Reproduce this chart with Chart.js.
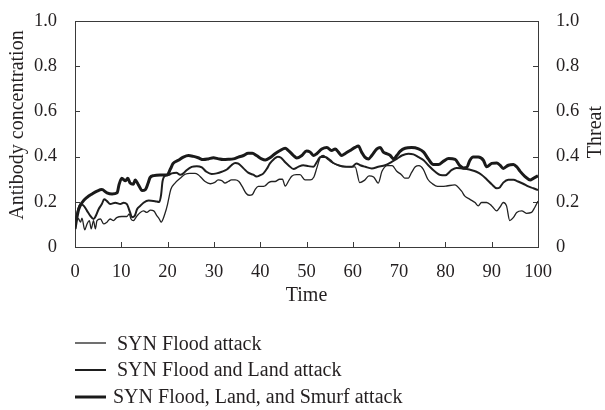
<!DOCTYPE html>
<html>
<head>
<meta charset="utf-8">
<script src="https://cdn.jsdelivr.net/npm/chart.js@4.4.1/dist/chart.umd.min.js"></script>
<style>
  html, body { margin: 0; padding: 0; background: #fff; }
  canvas { display: block; }
</style>
</head>
<body>
<canvas id="c" width="605" height="410"></canvas>
<script>
// ---- data ----
const seriesNames = ["SYN Flood attack", "SYN Flood and Land attack", "SYN Flood, Land, and Smurf attack"];
const xTickValues = [0, 10, 20, 30, 40, 50, 60, 70, 80, 90, 100];
const yTickValues = [0, 0.2, 0.4, 0.6, 0.8, 1.0];

const synTime = [0, 0.4, 0.8, 1.2, 1.5, 2.1, 2.6, 3.1, 3.5, 4.0, 4.4, 4.75, 5.5, 6.2, 6.9, 7.6, 8.3, 9.0, 10.1, 11.2, 11.7, 12.1, 12.6, 13.4, 14.1, 14.8, 15.5, 16.3, 17.0, 17.7, 18.2, 18.6, 19.4, 20.0, 20.3, 20.7, 21.6, 22.7, 23.8, 24.8, 25.9, 26.6, 27.4, 28.1, 29.2, 30.2, 30.9, 31.7, 32.4, 33.1, 33.8, 34.6, 35.4, 36.1, 36.9, 37.6, 38.3, 38.9, 39.6, 40.3, 41.0, 41.8, 42.5, 43.2, 44.2, 44.8, 45.4, 46.2, 46.8, 47.8, 48.6, 49.7, 50.8, 51.6, 52.2, 53.0, 53.6, 54.5, 55.4, 56.5, 57.8, 59.5, 60.5, 61.5, 62.5, 63.5, 64.5, 65.5, 66.3, 67.5, 68.5, 69.5, 70.5, 71.2, 72.0, 72.7, 73.5, 74.3, 75.2, 76.2, 77.2, 78.3, 79.3, 80.3, 82.0, 83.5, 84.2, 85.3, 86.4, 87.1, 87.8, 88.9, 90.0, 91.1, 91.8, 92.5, 93.2, 93.9, 94.7, 95.4, 96.5, 97.5, 98.6, 99.3, 100];
const synValue = [0.10, 0.13, 0.124, 0.11, 0.128, 0.076, 0.102, 0.117, 0.08, 0.117, 0.08, 0.117, 0.124, 0.102, 0.11, 0.124, 0.117, 0.13, 0.135, 0.135, 0.146, 0.124, 0.117, 0.138, 0.153, 0.16, 0.153, 0.163, 0.16, 0.138, 0.124, 0.11, 0.146, 0.19, 0.22, 0.256, 0.283, 0.304, 0.322, 0.326, 0.326, 0.32, 0.304, 0.29, 0.28, 0.286, 0.297, 0.294, 0.283, 0.29, 0.297, 0.297, 0.29, 0.268, 0.239, 0.229, 0.232, 0.254, 0.268, 0.268, 0.27, 0.285, 0.29, 0.29, 0.30, 0.30, 0.27, 0.295, 0.313, 0.32, 0.32, 0.297, 0.297, 0.31, 0.348, 0.398, 0.405, 0.39, 0.375, 0.365, 0.358, 0.355, 0.355, 0.285, 0.295, 0.315, 0.31, 0.283, 0.335, 0.36, 0.36, 0.335, 0.32, 0.305, 0.305, 0.33, 0.355, 0.36, 0.345, 0.30, 0.28, 0.268, 0.268, 0.27, 0.275, 0.247, 0.225, 0.211, 0.197, 0.182, 0.197, 0.197, 0.182, 0.16, 0.177, 0.197, 0.182, 0.117, 0.131, 0.153, 0.16, 0.149, 0.153, 0.175, 0.203];

const landTime = [0, 0.5, 1.2, 1.9, 2.6, 3.3, 4.0, 4.5, 5.1, 5.8, 6.3, 6.9, 7.6, 8.7, 9.8, 10.5, 11.2, 11.9, 12.3, 12.9, 13.4, 14.1, 14.8, 15.9, 17.3, 18.2, 18.6, 18.9, 19.5, 20.2, 20.9, 21.9, 22.7, 23.4, 24.1, 25.2, 26.3, 27.4, 28.4, 29.5, 30.6, 31.7, 32.8, 33.8, 34.6, 35.3, 36.4, 37.4, 38.5, 39.2, 40.0, 40.7, 41.4, 42.1, 43.0, 43.8, 44.5, 45.4, 46.2, 47.2, 48.2, 49.3, 50.4, 51.5, 52.2, 53.0, 54.0, 55.1, 55.8, 56.9, 58.3, 59.8, 60.8, 61.6, 62.7, 64.1, 65.5, 67.0, 68.4, 69.5, 70.6, 72.0, 73.1, 74.2, 75.3, 76.3, 77.8, 78.9, 80.0, 81.3, 82.4, 84.6, 85.7, 86.7, 87.8, 88.9, 90.0, 91.1, 91.8, 92.5, 93.6, 94.7, 95.7, 96.8, 97.9, 99.0, 100];
const landValue = [0.08, 0.15, 0.19, 0.182, 0.16, 0.138, 0.124, 0.138, 0.167, 0.19, 0.211, 0.203, 0.19, 0.196, 0.19, 0.196, 0.19, 0.153, 0.132, 0.138, 0.167, 0.182, 0.196, 0.206, 0.203, 0.199, 0.232, 0.29, 0.316, 0.319, 0.326, 0.329, 0.32, 0.326, 0.34, 0.355, 0.358, 0.352, 0.333, 0.323, 0.326, 0.333, 0.343, 0.362, 0.372, 0.369, 0.348, 0.329, 0.32, 0.312, 0.318, 0.326, 0.345, 0.37, 0.39, 0.40, 0.395, 0.375, 0.36, 0.345, 0.355, 0.362, 0.358, 0.355, 0.375, 0.398, 0.398, 0.385, 0.372, 0.362, 0.355, 0.355, 0.37, 0.362, 0.355, 0.348, 0.355, 0.362, 0.377, 0.39, 0.405, 0.413, 0.41, 0.398, 0.384, 0.362, 0.333, 0.319, 0.318, 0.34, 0.35, 0.345, 0.34, 0.333, 0.32, 0.30, 0.278, 0.26, 0.265, 0.285, 0.298, 0.298, 0.29, 0.28, 0.268, 0.26, 0.252];

const smurfTime = [0, 0.4, 0.8, 1.5, 2.6, 3.7, 4.75, 5.8, 6.9, 8.0, 9.1, 9.5, 10.1, 10.9, 11.4, 11.9, 12.6, 13.0, 13.7, 14.5, 15.2, 15.8, 16.2, 17.0, 18.4, 19.9, 20.6, 21.2, 22.3, 23.4, 24.5, 25.6, 26.6, 27.7, 28.8, 29.9, 31.0, 32.0, 33.1, 34.2, 35.3, 36.4, 37.4, 38.3, 39.2, 40.3, 41.1, 42.1, 43.2, 44.3, 45.4, 46.1, 47.2, 47.9, 49.0, 50.0, 50.8, 51.5, 52.2, 53.3, 54.4, 55.4, 56.2, 56.9, 57.6, 58.3, 59.4, 60.5, 61.2, 61.9, 62.6, 63.4, 64.1, 65.2, 65.9, 66.6, 67.3, 68.1, 68.8, 69.5, 70.2, 71.3, 72.7, 74.2, 75.3, 76.3, 77.4, 78.5, 79.6, 80.7, 82.1, 83.1, 83.9, 84.6, 85.3, 86.0, 87.1, 88.2, 88.9, 90.0, 91.1, 91.8, 92.5, 93.6, 94.7, 95.4, 96.1, 97.2, 98.3, 99.0, 100];
const smurfValue = [0.08, 0.13, 0.167, 0.196, 0.22, 0.235, 0.247, 0.254, 0.24, 0.235, 0.24, 0.275, 0.304, 0.293, 0.304, 0.283, 0.278, 0.297, 0.275, 0.25, 0.254, 0.283, 0.307, 0.316, 0.319, 0.319, 0.345, 0.37, 0.384, 0.398, 0.405, 0.401, 0.395, 0.387, 0.39, 0.395, 0.39, 0.387, 0.388, 0.39, 0.398, 0.405, 0.415, 0.415, 0.405, 0.39, 0.385, 0.395, 0.413, 0.427, 0.437, 0.427, 0.405, 0.394, 0.405, 0.425, 0.42, 0.405, 0.413, 0.434, 0.441, 0.427, 0.434, 0.42, 0.405, 0.413, 0.427, 0.441, 0.447, 0.42, 0.398, 0.39, 0.405, 0.434, 0.441, 0.42, 0.413, 0.405, 0.39, 0.405, 0.423, 0.437, 0.44, 0.434, 0.42, 0.39, 0.365, 0.365, 0.38, 0.392, 0.388, 0.36, 0.35, 0.352, 0.384, 0.398, 0.398, 0.384, 0.355, 0.37, 0.372, 0.362, 0.348, 0.362, 0.365, 0.355, 0.336, 0.312, 0.297, 0.304, 0.315];

// ---- chart ----
const FONT = "'Liberation Serif', 'Times New Roman', serif";
const INK = '#231f20';
const TEXT_SIZE = 20;
const TICK_SIZE = 18.5;
Chart.defaults.font.family = FONT;
Chart.defaults.font.size = TICK_SIZE;
Chart.defaults.color = INK;

function pairs(xs, ys) { return xs.map((x, i) => ({ x: x, y: ys[i] })); }

const frameAndTicks = {
  id: 'frameAndTicks',
  beforeDatasetsDraw(chart) {
    const ctx = chart.ctx, a = chart.chartArea;
    ctx.save();
    ctx.strokeStyle = '#3a3a3a';
    ctx.lineWidth = 1;
    ctx.strokeRect(Math.round(a.left) + 0.5, Math.round(a.top) + 0.5, Math.round(a.right - a.left), Math.round(a.bottom - a.top));
    const L = 5;
    ctx.beginPath();
    const xs = chart.scales.x;
    xs.ticks.forEach((t, i) => {
      const p = Math.round(xs.getPixelForTick(i)) + 0.5;
      ctx.moveTo(p, a.bottom); ctx.lineTo(p, a.bottom - L);
    });
    const ys = chart.scales.y;
    ys.ticks.forEach((t, i) => {
      const p = Math.round(ys.getPixelForTick(i)) + 0.5;
      ctx.moveTo(a.left, p); ctx.lineTo(a.left + L, p);
    });
    const y2 = chart.scales.y2;
    y2.ticks.forEach((t, i) => {
      const p = Math.round(y2.getPixelForTick(i)) + 0.5;
      ctx.moveTo(a.right, p); ctx.lineTo(a.right - L, p);
    });
    ctx.stroke();
    ctx.restore();
  },
  afterDraw(chart) {
    const ctx = chart.ctx, a = chart.chartArea;
    // axis titles on the sides (both read bottom to top)
    const sideTitles = [
      { text: 'Antibody concentration', x: 18, y: (a.top + a.bottom) / 2 - 9 },
      { text: 'Threat', x: 596, y: (a.top + a.bottom) / 2 - 2 }
    ];
    sideTitles.forEach(t => {
      ctx.save();
      ctx.fillStyle = INK;
      ctx.font = TEXT_SIZE + 'px ' + FONT;
      ctx.textAlign = 'center';
      ctx.textBaseline = 'middle';
      ctx.translate(t.x, t.y);
      ctx.rotate(-Math.PI / 2);
      ctx.fillText(t.text, 0, 0);
      ctx.restore();
    });

    // legend
    ctx.save();
    const lineY = [343, 370, 397];
    const textX = [117, 117, 113];
    const baseY = [350, 376, 403];
    chart.data.datasets.forEach((ds, i) => {
      ctx.strokeStyle = ds.borderColor;
      ctx.lineWidth = ds.borderWidth;
      ctx.beginPath();
      ctx.moveTo(75, lineY[i]);
      ctx.lineTo(106, lineY[i]);
      ctx.stroke();
      ctx.fillStyle = INK;
      ctx.font = TEXT_SIZE + 'px ' + FONT;
      ctx.textAlign = 'left';
      ctx.textBaseline = 'alphabetic';
      ctx.fillText(ds.label, textX[i], baseY[i]);
    });
    ctx.restore();
  }
};

const yTickFmt = v => (v === 0 ? '0' : Number(v).toFixed(1));

new Chart(document.getElementById('c'), {
  type: 'line',
  data: {
    datasets: [
      { label: seriesNames[0], data: pairs(synTime, synValue), borderColor: '#222', borderWidth: 1.3, pointRadius: 0, cubicInterpolationMode: 'monotone', fill: false },
      { label: seriesNames[1], data: pairs(landTime, landValue), borderColor: '#1e1e1e', borderWidth: 2, pointRadius: 0, cubicInterpolationMode: 'monotone', fill: false },
      { label: seriesNames[2], data: pairs(smurfTime, smurfValue), borderColor: '#1a1a1a', borderWidth: 3, pointRadius: 0, cubicInterpolationMode: 'monotone', fill: false }
    ]
  },
  options: {
    responsive: false,
    animation: false,
    devicePixelRatio: 1,
    layout: { padding: { top: 16, left: 0, right: 0, bottom: 102 } },
    plugins: { legend: { display: false }, tooltip: { enabled: false } },
    scales: {
      x: {
        type: 'linear', min: 0, max: 100,
        afterBuildTicks: s => { s.ticks = xTickValues.map(v => ({ value: v })); },
        grid: { display: false }, border: { display: false },
        ticks: { padding: 6, maxRotation: 0, color: INK, font: { size: TICK_SIZE } },
        title: { display: true, text: 'Time', color: INK, font: { size: TEXT_SIZE }, padding: { top: 0, bottom: 0 } },
        afterFit: s => { s.height = 61; }
      },
      y: {
        type: 'linear', position: 'left', min: 0, max: 1,
        afterBuildTicks: s => { s.ticks = yTickValues.map(v => ({ value: v })); },
        grid: { display: false }, border: { display: false },
        ticks: { padding: 10, callback: yTickFmt, color: INK, font: { size: TICK_SIZE } },
        afterFit: s => { s.width = 75; }
      },
      y2: {
        type: 'linear', position: 'right', min: 0, max: 1,
        afterBuildTicks: s => { s.ticks = yTickValues.map(v => ({ value: v })); },
        grid: { display: false }, border: { display: false },
        ticks: { padding: 10, callback: yTickFmt, color: INK, font: { size: TICK_SIZE } },
        afterFit: s => { s.width = 67; }
      }
    }
  },
  plugins: [frameAndTicks]
});
</script>
</body>
</html>
